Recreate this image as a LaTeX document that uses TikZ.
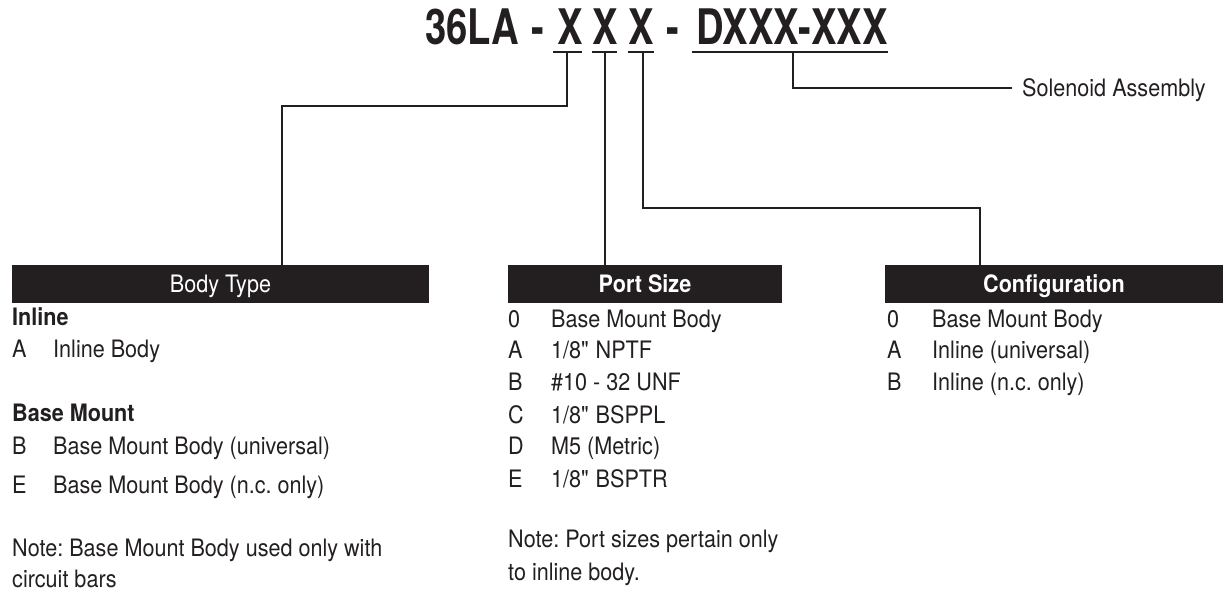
\documentclass[tikz,border=0pt]{standalone}
\usepackage{fontspec}
\setmainfont{TeX Gyre Heros}[FakeStretch=0.9]
\newfontfamily\titlefont{TeX Gyre Heros}[FakeStretch=0.78]
\definecolor{ink}{HTML}{231F20}
\frenchspacing
\begin{document}
\begin{tikzpicture}[x=1pt,y=-1pt,
  txt/.style={anchor=base west,inner sep=0pt,text=ink,font=\fontsize{24}{28}\selectfont},
  bold/.style={txt,font=\fontsize{24}{28}\selectfont\bfseries},
  ttl/.style={anchor=base,inner sep=0pt,text=ink,font=\titlefont\fontsize{49}{55}\selectfont\bfseries},
  bar/.style={fill=ink,text=white,inner sep=0pt,minimum height=38pt,text height=17pt,text depth=0pt,font=\fontsize{24}{28}\selectfont},
  uline/.style={draw=ink,line width=2.6pt},
  conn/.style={draw=ink,line width=2.2pt}]
\useasboundingbox (0,0) rectangle (1223,594);

% title pieces
\node[ttl,anchor=base west] (t36) at (425,45) {36LA};
\node[ttl] (dsh1) at (538,45) {-};
\node[ttl] (x1) at (570,45) {X};
\node[ttl] (x2) at (605,45) {X};
\node[ttl] (x3) at (641,45) {X};
\node[ttl] (dsh2) at (673,45) {-};
\node[ttl] (dx) at (792,45) {DXXX-XXX};

% underlines
\coordinate (x1a) at (553,52); \coordinate (x1b) at (582,52); \coordinate (x1u) at (567,52);
\coordinate (x2a) at (592,52); \coordinate (x2b) at (617,52); \coordinate (x2u) at (605,52);
\coordinate (x3a) at (628,52); \coordinate (x3b) at (654,52); \coordinate (x3u) at (643,52);
\coordinate (dxa) at (692,52); \coordinate (dxb) at (888,52); \coordinate (dxu) at (793,52);
\draw[uline] (x1a) -- (x1b);
\draw[uline] (x2a) -- (x2b);
\draw[uline] (x3a) -- (x3b);
\draw[uline] (dxa) -- (dxb);

% bars
\node[bar,minimum width=417pt] (bt) at (220.5,284) {Body Type};
\node[bar,minimum width=274pt,font=\fontsize{24}{28}\selectfont\bfseries] (ps) at (645,284) {Port Size};
\node[bar,minimum width=338pt,font=\fontsize{24}{28}\selectfont\bfseries] (cf) at (1054,284) {Configuration};

% connectors
\coordinate (c1) at (282,106);
\coordinate (c3) at (980,208);
\coordinate (se) at (1012,88);
\draw[conn] (x1u) |- (c1) -- (c1 |- bt.north);
\draw[conn] (x2u) -- (x2u |- ps.north);
\draw[conn] (x3u) |- (c3) -- (c3 |- cf.north);
\draw[conn] (dxu) |- (se);
\node[txt] (sol) at (1022,96) {Solenoid Assembly};

% Body Type column
\node[bold] (inl) at (12,325) {Inline};
\node[txt] (bA) at (12,357) {A};
\node[txt] (bAt) at (53,357) {Inline Body};
\node[bold] (bm) at (12,421) {Base Mount};
\node[txt] (bB) at (12,454) {B};
\node[txt] (bBt) at (53,454) {Base Mount Body (universal)};
\node[txt] (bE) at (12,493) {E};
\node[txt] (bEt) at (53,493) {Base Mount Body (n.c. only)};
\node[txt] (bn1) at (12,556) {Note: Base Mount Body used only with};
\node[txt] (bn2) at (12,587) {circuit bars};

% Port Size column
\node[txt] (p0) at (508,327) {0};
\node[txt] (p0t) at (551,327) {Base Mount Body};
\node[txt] (pA) at (508,358) {A};
\node[txt] (pAt) at (551,358) {1/8\textquotedbl{} NPTF};
\node[txt] (pB) at (508,390) {B};
\node[txt] (pBt) at (551,390) {\#10 - 32 UNF};
\node[txt] (pC) at (508,423) {C};
\node[txt] (pCt) at (551,423) {1/8\textquotedbl{} BSPPL};
\node[txt] (pD) at (508,454) {D};
\node[txt] (pDt) at (551,454) {M5 (Metric)};
\node[txt] (pE) at (508,487) {E};
\node[txt] (pEt) at (551,487) {1/8\textquotedbl{} BSPTR};
\node[txt] (pn1) at (508,547) {Note: Port sizes pertain only};
\node[txt] (pn2) at (508,580) {to inline body.};

% Configuration column
\node[txt] (c0) at (887,327) {0};
\node[txt] (c0t) at (932,327) {Base Mount Body};
\node[txt] (cA) at (887,358) {A};
\node[txt] (cAt) at (932,358) {Inline (universal)};
\node[txt] (cB) at (887,390) {B};
\node[txt] (cBt) at (932,390) {Inline (n.c. only)};
\end{tikzpicture}
\end{document}
